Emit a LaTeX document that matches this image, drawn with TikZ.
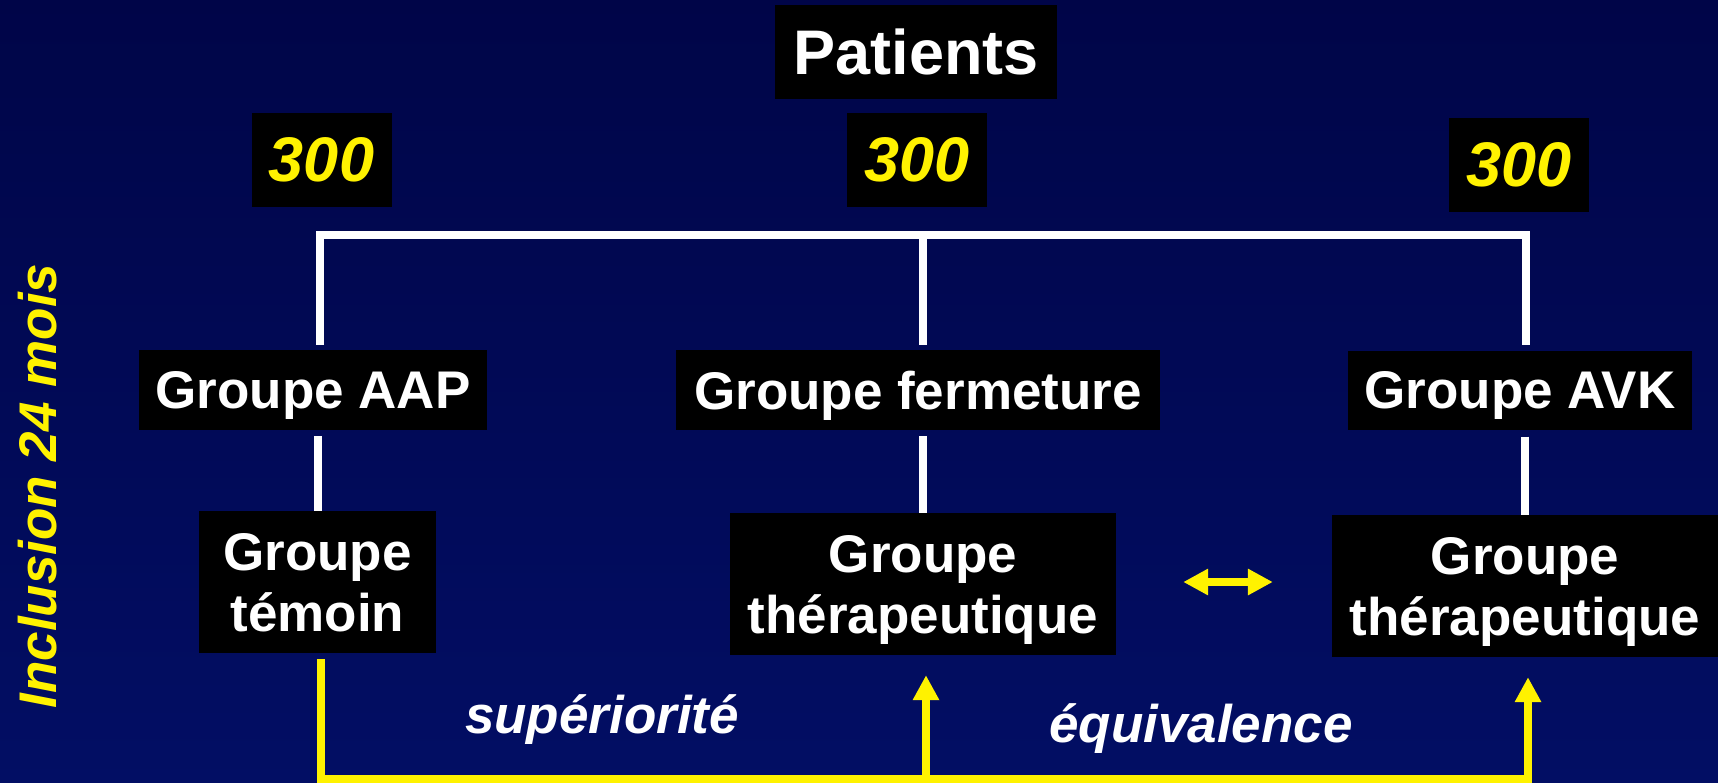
\documentclass[tikz,border=0pt]{standalone}
\usepackage{fontspec}
\setmainfont{Liberation Sans}
\usetikzlibrary{positioning,arrows.meta,calc}

\definecolor{bgtop}{RGB}{0,5,72}
\definecolor{bgbot}{RGB}{2,14,100}

\tikzset{
    box/.style={fill=black, text=white, inner sep=0pt, text depth=0pt, align=center,
        font=\bfseries\fontsize{53}{61}\selectfont},
    numbox/.style={box, text=yellow, font=\bfseries\itshape\fontsize{63}{70}\selectfont},
    wline/.style={draw=white, line width=8pt},
    yline/.style={draw=yellow, line width=8pt},
    tip/.style={-{Triangle[width=25pt,length=25pt]}},
    comment/.style={text=white, font=\bfseries\itshape\fontsize{53}{61}\selectfont}
}

\begin{document}
\begin{tikzpicture}[x=1pt,y=-1pt]
    \useasboundingbox (0,0) rectangle (1718,782);
    \shade[top color=bgtop, bottom color=bgbot] (0,0) rectangle (1718,782);

    \node[box, font=\bfseries\fontsize{63}{70}\selectfont, minimum width=282pt, minimum height=94pt] (patients) at (916,52) {Patients};

    \node[numbox, minimum width=140pt, minimum height=94pt] (nbAAP) at (321.5,160) {300};
    \node[numbox, minimum width=140pt, minimum height=94pt] (nbFerm) at (917,160) {300};
    \node[numbox, minimum width=140pt, minimum height=94pt] (nbAVK) at (1519,165) {300};

    \node[box, minimum width=348pt, minimum height=80pt] (aap) at (313,390) {Groupe AAP};
    \node[box, minimum width=484pt, minimum height=80pt] (ferm) at (918,390) {Groupe fermeture};
    \node[box, minimum width=344pt, minimum height=79pt] (avk) at (1520,390) {Groupe AVK};

    \node[box, minimum width=237pt, minimum height=142pt] (temoin) at (317.5,582) {Groupe\\témoin};
    \node[box, minimum width=386pt, minimum height=142pt] (therFerm) at (923,584) {Groupe\\thérapeutique};
    \node[box, minimum width=386pt, minimum height=142pt] (therAVK) at (1525,586) {Groupe\\thérapeutique};

    \node[comment, anchor=base] (sup) at (602,733) {supériorité};
    \node[comment, anchor=base] (equiv) at (1201,742) {équivalence};
    \node[text=yellow, font=\bfseries\itshape\fontsize{53}{61}\selectfont, rotate=90, anchor=base] (inclusion) at (56,486) {Inclusion 24 mois};

    \coordinate (barL) at (320,235);
    \coordinate (barM) at (923,235);
    \coordinate (barR) at (1526,235);
    \coordinate (baseL) at (321,779);
    \coordinate (baseM) at (926,779);
    \coordinate (baseR) at (1528,779);

    \draw[wline, shorten <=5pt, shorten >=5pt] (barL |- aap.north) -- (barL) -- (barR) -- (barR |- avk.north);
    \draw[wline, shorten >=5pt] (barM) -- (barM |- ferm.north);
    \draw[wline, shorten <=6pt] (aap.south -| temoin) -- (temoin.north);
    \draw[wline, shorten <=6pt] (ferm.south -| therFerm) -- (therFerm.north);
    \draw[wline, shorten <=7pt] (avk.south -| therAVK) -- (therAVK.north);

    \draw[yline, tip, shorten <=6pt, shorten >=20pt] (temoin.south -| baseL) -- (baseL) -- (baseR) -- (baseR |- therAVK.south);
    \draw[yline, tip, shorten >=20pt] (baseM) -- (baseM |- therFerm.south);
    \draw[yline, {Triangle[width=25pt,length=25pt]}-{Triangle[width=25pt,length=25pt]}, shorten <=67pt, shorten >=59pt] ([yshift=2pt]therFerm.east) -- ([yshift=2pt]therFerm.east -| therAVK.west);
\end{tikzpicture}
\end{document}
